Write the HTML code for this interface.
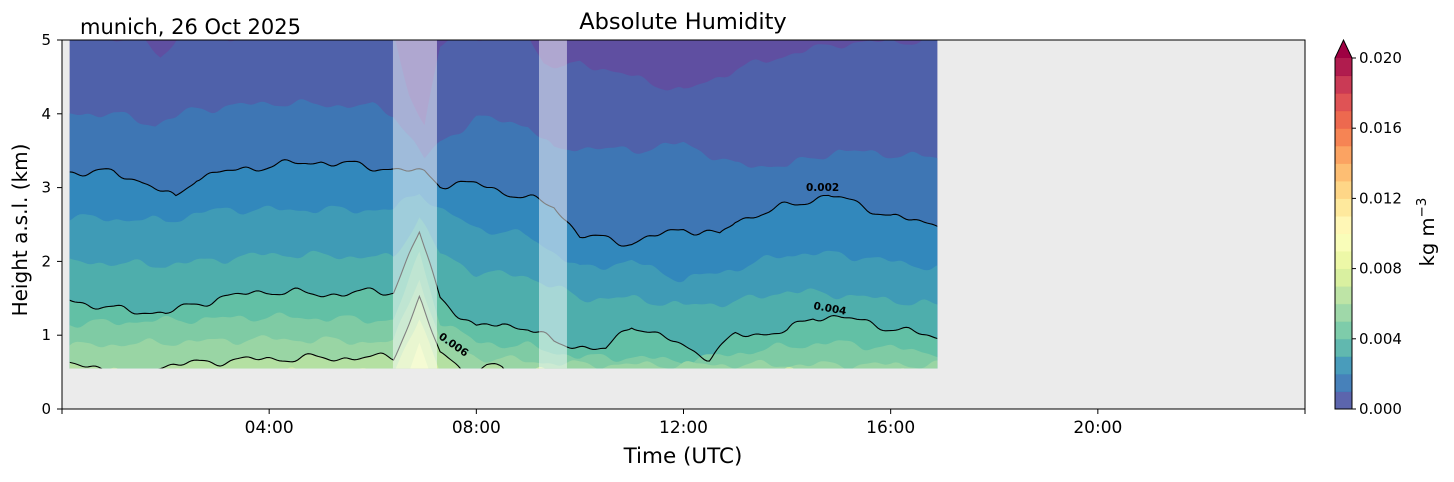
<!DOCTYPE html>
<html><head><meta charset="utf-8"><style>
body{margin:0;background:#fff;font-family:"DejaVu Sans","Liberation Sans",sans-serif;}
</style></head><body>
<svg id="s" width="1454" height="478" xmlns="http://www.w3.org/2000/svg" font-family="DejaVu Sans, Liberation Sans, sans-serif">
</svg>
<script>
const S=document.getElementById('s');
const X=h=>62+h*(1243/24), Y=k=>409-k*73.8;
function interp(pts,h){for(let i=0;i<pts.length-1;i++){if(h<=pts[i+1][0]){const t=(h-pts[i][0])/(pts[i+1][0]-pts[i][0]);return pts[i][1]+t*(pts[i+1][1]-pts[i][1]);}}return pts[pts.length-1][1];}
function noise(h,s){return 0.035*Math.sin(h*5.3+s)+0.025*Math.sin(h*9.1+2*s)+0.01*Math.sin(h*17+3*s);}
const h0=0.15,h1=16.9;
const B=[
[[0,5.05],[1.5,5.0],[1.9,4.8],[2.3,5.05],[6.4,5.05],[6.7,4.3],[7.0,3.85],[7.3,4.9],[7.6,5.05],[9.0,5.05],[9.3,4.7],[9.7,4.6],[10,4.7],[11,4.5],[12,4.3],[13,4.6],[14,4.8],[15,4.95],[17,5.0]],
[[0,4.0],[1,4.0],[1.8,3.85],[2.5,4.05],[4,4.15],[6,4.1],[6.4,4.0],[7,3.4],[7.3,3.6],[8,3.95],[9,3.85],[9.5,3.5],[10,3.55],[11,3.5],[12,3.6],[13,3.3],[14,3.3],[15,3.5],[16,3.45],[17,3.4]],
[[0,3.22],[1,3.2],[1.5,3.1],[2.2,2.85],[2.6,3.15],[4,3.3],[5,3.35],[6.4,3.25],[7,3.2],[7.3,3.05],[8,3.05],[9,2.85],[9.5,2.75],[10,2.35],[11,2.25],[12,2.45],[12.7,2.35],[13,2.55],[14,2.75],[14.8,2.9],[15.5,2.75],[16,2.6],[17,2.5]],
[[0,2.6],[2,2.55],[3,2.7],[4,2.7],[6.4,2.7],[6.9,2.95],[7.3,2.7],[8,2.45],[9,2.35],[10,1.9],[11,2.0],[12,1.75],[13,1.9],[14,2.1],[15,2.1],[17,1.9]],
[[0,2.0],[2,1.95],[4,2.1],[6.4,2.05],[6.9,2.6],[7.3,2.1],[8,1.85],[9,1.8],[10,1.5],[11,1.5],[12,1.4],[13,1.45],[14,1.6],[15,1.55],[17,1.4]],
[[0,1.5],[1,1.35],[2,1.3],[3,1.5],[4,1.6],[5,1.55],[6.4,1.6],[6.9,2.4],[7.3,1.5],[8,1.1],[8.5,1.15],[9,1.1],[9.5,0.9],[10,0.85],[10.5,0.8],[11,1.15],[12,0.85],[12.5,0.7],[13,1.0],[14,1.05],[14.5,1.25],[15,1.25],[16,1.1],[17,0.95]],
[[0,1.15],[4,1.25],[6.4,1.2],[6.9,2.1],[7.3,1.2],[8,0.9],[9,0.85],[10,0.7],[11,0.7],[12,0.65],[13,0.75],[14,0.85],[15,0.9],[17,0.75]],
[[0,0.85],[4,0.95],[6.4,0.9],[6.9,1.8],[7.3,0.9],[8,0.7],[9,0.65],[10,0.6],[17,0.6]],
[[0,0.62],[0.8,0.57],[1.0,0.45],[1.6,0.45],[1.8,0.57],[3,0.65],[4,0.68],[6.4,0.7],[6.9,1.5],[7.3,0.75],[7.7,0.56],[8.0,0.5],[8.2,0.57],[8.5,0.56],[8.7,0.45],[17,0.45]],
[[0,0.5],[6.4,0.5],[6.9,1.2],[7.3,0.5],[17,0.5]],
[[0,0.5],[6.7,0.5],[6.9,0.9],[7.1,0.5],[17,0.5]]
];
const cols=['#5f4fa1','#4f61aa','#3e76b4','#3288bc','#3f9bb6','#4eaeac','#62c0a5','#7fcba4','#99d5a4','#b4e0a2','#d2eda0','#eaf6a6'];
let out='';
out+=`<rect x="62" y="40" width="1243" height="369" fill="#ebebeb"/>`;
out+=`<defs><clipPath id="c"><rect x="${X(h0)}" y="40" width="${X(h1)-X(h0)}" height="${Y(0.55)-40}"/></clipPath></defs><g clip-path="url(#c)">`;
out+=`<rect x="0" y="0" width="1454" height="478" fill="${cols[0]}"/>`;
function curve(k){let p=[];for(let h=0;h<=17.01;h+=0.05){let v=interp(B[k],h)+(k<10?noise(h,k*1.7):0);p.push([X(h),Y(Math.min(v,5.1))]);}return p;}
const curves=B.map((_,k)=>curve(k));
curves.forEach((p,k)=>{out+=`<path d="M${p.map(q=>q[0].toFixed(1)+','+q[1].toFixed(1)).join('L')}L${X(17)},420L${X(0)},420Z" fill="${cols[k+1]}"/>`;});
function line(p,w,c,op){return `<path d="M${p.map(q=>q[0].toFixed(1)+','+q[1].toFixed(1)).join('L')}" fill="none" stroke="${c}" stroke-width="${w}" opacity="${op}"/>`;}
[2,5,8].forEach(k=>{out+=line(curves[k],1.1,'#000',1);});
[[6.39,7.24],[9.21,9.75]].forEach(([a,b])=>{out+=`<rect x="${X(a)}" y="40" width="${X(b)-X(a)}" height="330" fill="#fff" opacity="0.5"/>`;});
out+='</g>';
out+=`<text x="806" y="191" font-size="10.5" font-weight="bold">0.002</text>`;
out+=`<text x="813" y="309" font-size="10.5" font-weight="bold" transform="rotate(10 813 309)">0.004</text>`;
out+=`<text x="438" y="338" font-size="10.5" font-weight="bold" transform="rotate(35 438 338)">0.006</text>`;
out+=`<rect x="62" y="40" width="1243" height="369" fill="none" stroke="#000" stroke-width="1"/>`;
[4,8,12,16,20].forEach(h=>{const x=X(h);out+=`<line x1="${x}" y1="409" x2="${x}" y2="414" stroke="#000"/><text x="${x}" y="433" font-size="17" text-anchor="middle">${String(h).padStart(2,'0')}:00</text>`;});
[0,24].forEach(h=>{out+=`<line x1="${X(h)}" y1="409" x2="${X(h)}" y2="414" stroke="#000"/>`;});
for(let k=0;k<=5;k++){const y=Y(k);out+=`<line x1="57" y1="${y}" x2="62" y2="${y}" stroke="#000"/><text x="51" y="${y+5}" font-size="15" text-anchor="end">${k}</text>`;}
out+=`<text x="683" y="463" font-size="21.5" text-anchor="middle">Time (UTC)</text>`;
out+=`<text transform="translate(27 230) rotate(-90)" font-size="20" text-anchor="middle">Height a.s.l. (km)</text>`;
out+=`<text x="683" y="29" font-size="22.5" text-anchor="middle">Absolute Humidity</text>`;
out+=`<text x="80" y="34" font-size="21">munich, 26 Oct 2025</text>`;
const sp=['#5e4fa2','#3288bd','#66c2a5','#abdda4','#e6f598','#ffffbf','#fee08b','#fdae61','#f46d43','#d53e4f','#9e0142'];
function hx(c){return [1,3,5].map(i=>parseInt(c.substr(i,2),16));}
function cmap(t){t=Math.max(0,Math.min(1,t))*10;const i=Math.min(9,Math.floor(t)),f=t-i;const a=hx(sp[i]),b=hx(sp[i+1]);return `rgb(${a.map((v,j)=>Math.round(v+f*(b[j]-v))).join(',')})`;}
const cx=1335,cw=17,ct=58,cb=409;const n=20,bh=(cb-ct)/n;
for(let i=0;i<n;i++){out+=`<rect x="${cx}" y="${cb-(i+1)*bh}" width="${cw}" height="${bh+0.5}" fill="${cmap((i+0.5)/n)}" opacity="0.95"/>`;}
out+=`<polygon points="${cx},${ct} ${cx+cw/2},40 ${cx+cw},${ct}" fill="#9e0142"/>`;
out+=`<polygon points="${cx},${cb} ${cx},${ct} ${cx+cw/2},40 ${cx+cw},${ct} ${cx+cw},${cb}" fill="none" stroke="#000" stroke-width="1"/>`;
['0.000','0.004','0.008','0.012','0.016','0.020'].forEach((l,i)=>{const y=cb-i*(cb-ct)/5;out+=`<line x1="${cx+cw}" y1="${y}" x2="${cx+cw+4}" y2="${y}" stroke="#000"/><text x="${cx+cw+7}" y="${y+5}" font-size="15">${l}</text>`;});
out+=`<text transform="translate(1434 232) rotate(-90)" font-size="19.5" text-anchor="middle">kg m<tspan dy="-8" font-size="13.5">−3</tspan></text>`;
S.innerHTML=out;
</script>
</body></html>
